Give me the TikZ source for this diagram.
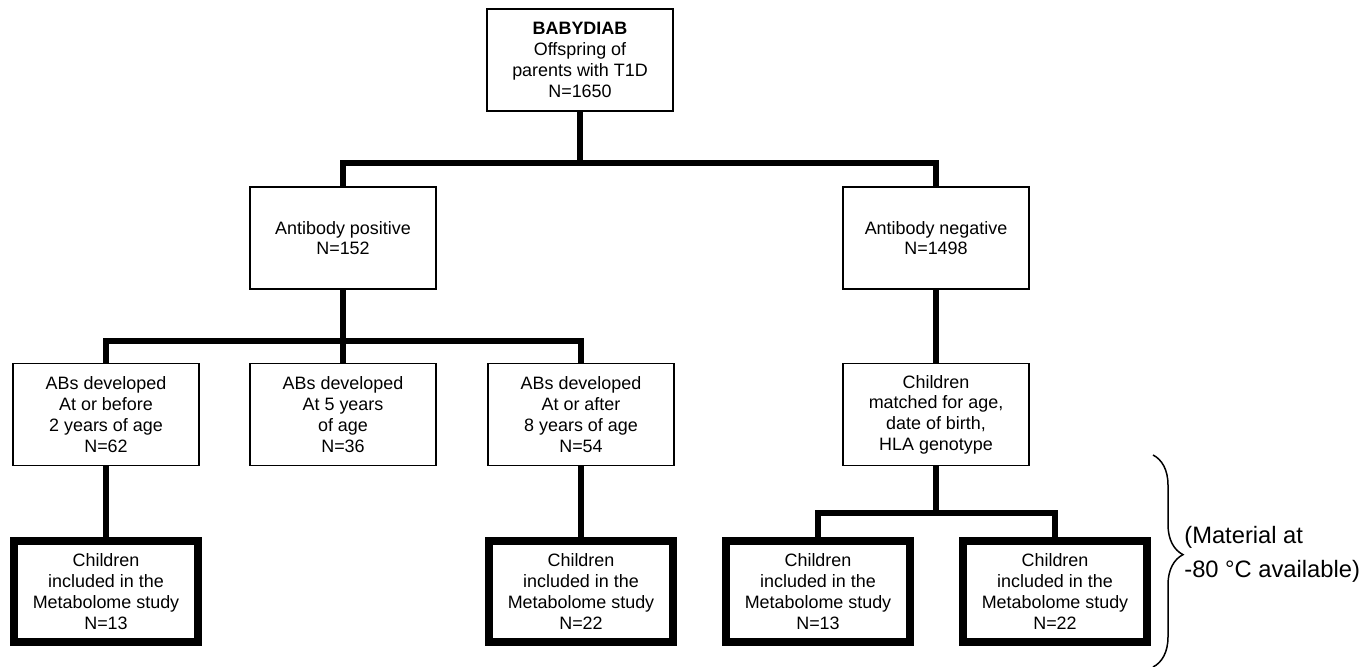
\documentclass[tikz,border=0pt]{standalone}
\usepackage{fontspec}
\setmainfont{Liberation Sans}
\usetikzlibrary{positioning,calc,decorations.pathreplacing}

\begin{document}
\begin{tikzpicture}[
    box/.style={rectangle, draw, line width=0.85pt, minimum width=3.72cm, minimum height=2.04cm, align=center, inner sep=2pt, font=\fontsize{10.2}{11.8}\selectfont},
    studybox/.style={box, line width=4.5pt, minimum width=3.68cm, minimum height=2.02cm},
    link/.style={line width=3.4pt}
]
    \useasboundingbox (0,0) rectangle (27.22,-13.34);

    % Cohort
    \node[box] (babydiab) at (11.6,-1.2) {\textbf{BABYDIAB}\\Offspring of\\parents with T1D\\N=1650};

    % Antibody status
    \node[box] (abpos) at (6.86,-4.76) {Antibody positive\\N=152};
    \node[box] (abneg) at (18.72,-4.76) {Antibody negative\\N=1498};

    % Age at seroconversion / matched controls
    \node[box] (abtwo) at (2.12,-8.29) {ABs developed\\At or before\\2 years of age\\N=62};
    \node[box] (abfive) at (6.86,-8.29) {ABs developed\\At 5 years\\of age\\N=36};
    \node[box] (abeight) at (11.62,-8.29) {ABs developed\\At or after\\8 years of age\\N=54};
    \node[box] (matched) at (18.72,-8.29) {Children\\matched for age,\\date of birth,\\HLA genotype};

    % Metabolome study
    \node[studybox] (incone) at (2.12,-11.83) {Children\\included in the\\Metabolome study\\N=13};
    \node[studybox] (inctwo) at (11.62,-11.83) {Children\\included in the\\Metabolome study\\N=22};
    \node[studybox] (incthree) at (16.36,-11.83) {Children\\included in the\\Metabolome study\\N=13};
    \node[studybox] (incfour) at (21.1,-11.83) {Children\\included in the\\Metabolome study\\N=22};

    % Split points
    \coordinate (splitone) at (11.6,-3.26);
    \coordinate (splittwo) at (6.86,-6.82);
    \coordinate (splitthree) at (18.72,-10.26);

    % Connections
    \draw[link] (babydiab.south) -- (splitone);
    \draw[link] (splitone) -| (abpos.north);
    \draw[link] (splitone) -| (abneg.north);
    \draw[link] (abpos.south) -- (splittwo);
    \draw[link] (splittwo) -| (abtwo.north);
    \draw[link] (splittwo) -- (abfive.north);
    \draw[link] (splittwo) -| (abeight.north);
    \draw[link] (abneg) -- (matched);
    \draw[link] (abtwo) -- (incone);
    \draw[link] (abeight) -- (inctwo);
    \draw[link] (matched.south) -- (splitthree);
    \draw[link] (splitthree) -| (incthree.north);
    \draw[link] (splitthree) -| (incfour.north);

    % Storage note
    \coordinate (bracetop) at (23.06,-9.1);
    \coordinate (bracebot) at (23.06,-13.34);
    \draw[line width=0.85pt, decorate, decoration={brace, amplitude=0.6cm, aspect=0.47}] (bracetop) -- (bracebot);
    \node[anchor=west, align=left, inner sep=0pt, font=\fontsize{13.5}{15.5}\selectfont] (matnote) at (23.68,-11.09) {(Material at\\[4pt]-80 °C available)};
\end{tikzpicture}
\end{document}
